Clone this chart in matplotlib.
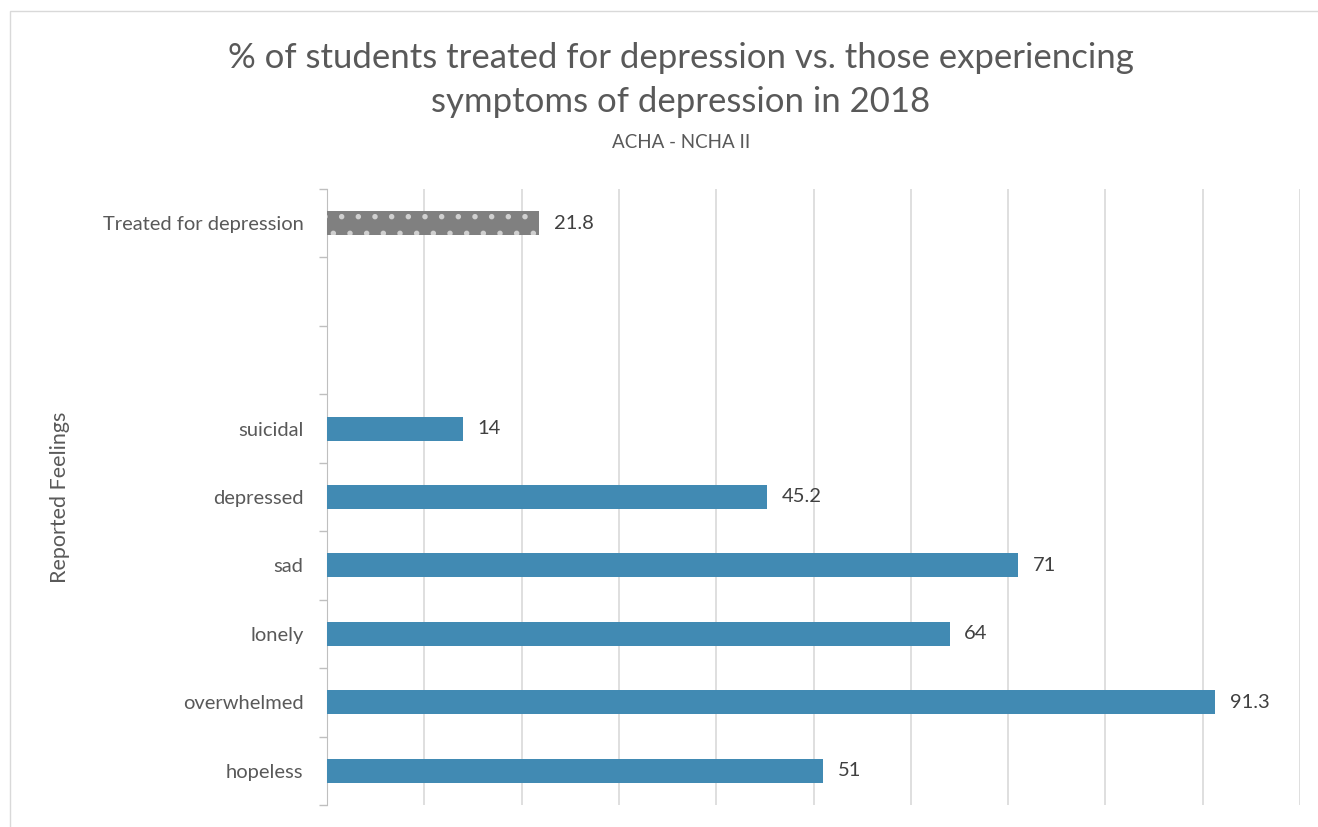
import matplotlib.pyplot as plt
from matplotlib.patches import Rectangle
import numpy as np

# data, bottom to top
categories = ["hopeless", "overwhelmed", "lonely", "sad", "depressed", "suicidal", "", "", "Treated for depression"]
values = [51, 91.3, 64, 71, 45.2, 14, None, None, 21.8]
is_treated = [False, False, False, False, False, False, False, False, True]

blue = "#418AB3"
gray = "#808080"
txt = "#595959"

plt.rcParams['font.family'] = ['Lato', 'DejaVu Sans']
plt.rcParams['hatch.color'] = '#d0d0d0'
plt.rcParams['hatch.linewidth'] = 1.5

fig = plt.figure(figsize=(13.18, 8.27), dpi=100)
fig.patches.append(Rectangle((10 / 1318, -0.1), 1.2, 1.1 - 11 / 827,
                             transform=fig.transFigure, fill=False,
                             edgecolor="#d9d9d9", linewidth=1))
ax = fig.add_axes([327 / 1318, 1 - 805 / 827, (1300 - 327) / 1318, (805 - 189) / 827])

y = np.arange(len(categories))
for i, (v, t) in enumerate(zip(values, is_treated)):
    if v is None:
        continue
    if t:
        ax.barh(i, v, height=0.35, color=gray, hatch=".", edgecolor="#d0d0d0", linewidth=0, zorder=3)
    else:
        ax.barh(i, v, height=0.35, color=blue, zorder=3)
    ax.text(v + 1.5, i, f"{v:g}", va="center", ha="left", fontsize=14.5, color="#404040")

ax.set_xlim(0, 100)
ax.set_ylim(-0.5, len(categories) - 0.5)
ax.set_xticks(np.arange(0, 101, 10))
ax.xaxis.grid(True, color="#d9d9d9", linewidth=1.2, zorder=0)
ax.tick_params(axis="x", length=0, labelbottom=False)

ax.set_yticks(y)
ax.set_yticklabels(categories, fontsize=14.5, color=txt)
ax.set_yticks(np.arange(-0.5, len(categories), 1), minor=True)
ax.tick_params(axis="y", which="major", length=0, pad=17)
ax.tick_params(axis="y", which="minor", length=6, color="#bfbfbf", width=1)

for s in ["top", "right", "bottom"]:
    ax.spines[s].set_visible(False)
ax.spines["left"].set_color("#bfbfbf")

fig.text(60 / 1318, 1 - 497 / 827, "Reported Feelings", rotation=90, ha="center", va="center",
         fontsize=15.5, color=txt)
fig.text(0.5165, 1 - 58 / 827, "% of students treated for depression vs. those experiencing",
         ha="center", va="center", fontsize=25, color=txt)
fig.text(0.5165, 1 - 102 / 827, "symptoms of depression in 2018",
         ha="center", va="center", fontsize=25, color=txt)
fig.text(0.5165, 1 - 142 / 827, "ACHA - NCHA II", ha="center", va="center", fontsize=13.5, color=txt)

fig.savefig("out.png", dpi=100)
